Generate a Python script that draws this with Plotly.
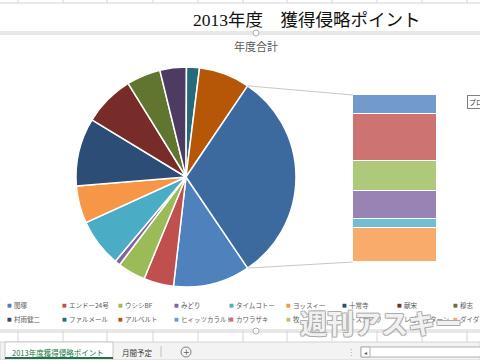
import math
import plotly.graph_objects as go

# ---------------- data ----------------
pie_labels = ["関塚", "エンドー24号", "ウシシBF", "みどり", "タイムコトー", "ヨッスィー",
              "十常寺", "献宋", "穆志", "村雨健二", "ファルメール", "アルベルト"]
pie_values = [113, 44, 41, 8, 71, 55, 100, 75, 50, 39, 19, 75]
pie_colors = ["#4F81BD", "#C0504D", "#9BBB59", "#8064A2", "#4BACC6", "#F79646",
              "#2C4D75", "#772C2A", "#5F7530", "#4D3B62", "#276A7C", "#B65708"]

bar_labels = ["ヒィッツカラルド", "カワラザキ", "牧", "トスカロウ", "レビルサターン", "ダイダ"]
bar_values = [36, 87, 56, 52, 17, 63]
bar_colors = ["#729ACA", "#CD7371", "#AFC97A", "#9983B5", "#6FBDD1", "#F9AB6B"]

other_label = "その他"
other_color = "#3C6A9E"

title_text = "2013年度　獲得侵略ポイント"
chart_title = "年度合計"
sheet_tabs = ["2013年度獲得侵略ポイント", "月間予定"]

# ---------------- layout helpers ----------------
W, H = 480, 360
def px(x):
    return x / W
def py(y):
    return 1 - y / H

other_value = sum(bar_values)
total = sum(pie_values) + other_value
rotation = 145.9  # start angle of first slice (clockwise from 12 o'clock)

pie_cx, pie_cy, pie_r = 186, 177, 110
pie_dom_x = [px(pie_cx - pie_r), px(pie_cx + pie_r)]
pie_dom_y = [py(pie_cy + pie_r), py(pie_cy - pie_r)]

bar_x0, bar_x1, bar_top, bar_bot = 353, 437, 95, 262

fig = go.Figure()

fig.add_trace(go.Pie(
    labels=pie_labels + [other_label],
    values=pie_values + [other_value],
    marker=dict(colors=pie_colors + [other_color], line=dict(color="white", width=1.5)),
    sort=False, direction="clockwise", rotation=rotation,
    textinfo="none", hoverinfo="label+value", showlegend=False,
    domain=dict(x=pie_dom_x, y=pie_dom_y),
))

# stacked bar (first item on top)
for lab, val, col in reversed(list(zip(bar_labels, bar_values, bar_colors))):
    fig.add_trace(go.Bar(
        x=[0], y=[val], name=lab, marker=dict(color=col, line=dict(color="white", width=1.5)),
        width=1, showlegend=False, xaxis="x", yaxis="y",
    ))

shapes = []
annotations = []

def note(text, x, y, size, color, family="Noto Sans CJK JP", xanchor="center", **kw):
    d = dict(text=text, x=px(x), y=py(y), xref="paper", yref="paper", showarrow=False,
             xanchor=xanchor, yanchor="middle",
             font=dict(family=family, size=size, color=color))
    d.update(kw)
    annotations.append(d)

# connector lines from the "other" slice edges to the bar
a_start = math.radians(rotation - 360 * other_value / total)
a_end = math.radians(rotation)
for ang, by in [(a_start, bar_top), (a_end, bar_bot)]:
    sx = pie_cx + pie_r * math.sin(ang)
    sy = pie_cy - pie_r * math.cos(ang)
    shapes.append(dict(type="line", xref="paper", yref="paper",
                       x0=px(sx), y0=py(sy), x1=px(bar_x0), y1=py(by),
                       line=dict(color="#C8C8C8", width=1)))

# spreadsheet grid at top
grid_x = [18, 63, 107, 153, 198, 243, 287, 332, 377, 422, 467]
shapes.append(dict(type="line", xref="paper", yref="paper", x0=0, x1=1, y0=py(3), y1=py(3),
                   line=dict(color="#D4D4D4", width=1)))
for gx in grid_x:
    shapes.append(dict(type="line", xref="paper", yref="paper", x0=px(gx), x1=px(gx),
                       y0=py(0), y1=py(3), line=dict(color="#D4D4D4", width=1)))
    shapes.append(dict(type="line", xref="paper", yref="paper", x0=px(gx), x1=px(gx),
                       y0=py(331), y1=py(342), line=dict(color="#D4D4D4", width=1)))
# chart area borders
for yy in [32, 34]:
    shapes.append(dict(type="line", xref="paper", yref="paper", x0=0, x1=1, y0=py(yy), y1=py(yy),
                       line=dict(color="#D0D0D0", width=1)))
for yy in [330, 332]:
    shapes.append(dict(type="line", xref="paper", yref="paper", x0=0, x1=1, y0=py(yy), y1=py(yy),
                       line=dict(color="#D0D0D0", width=1)))
for yy in [33, 331]:
    shapes.append(dict(type="circle", xref="paper", yref="paper", x0=px(253), x1=px(259),
                       y0=py(yy + 3), y1=py(yy - 3), fillcolor="white",
                       line=dict(color="#B0B0B0", width=1)))

# tab bar
shapes.append(dict(type="rect", xref="paper", yref="paper", x0=0, x1=1, y0=0, y1=py(342),
                   fillcolor="#F3F3F3", line=dict(color="#D4D4D4", width=1), layer="below"))
shapes.append(dict(type="rect", xref="paper", yref="paper", x0=px(5), x1=px(113), y0=0, y1=py(342),
                   fillcolor="white", line=dict(color="#C8C8C8", width=1)))
shapes.append(dict(type="line", xref="paper", yref="paper", x0=px(5), x1=px(113),
                   y0=py(358), y1=py(358), line=dict(color="#217346", width=2)))
shapes.append(dict(type="line", xref="paper", yref="paper", x0=px(161), x1=px(161),
                   y0=py(346), y1=py(357), line=dict(color="#C0C0C0", width=1)))
shapes.append(dict(type="circle", xref="paper", yref="paper", x0=px(181), x1=px(191),
                   y0=py(357), y1=py(347), line=dict(color="#808080", width=1)))
shapes.append(dict(type="rect", xref="paper", yref="paper", x0=px(361), x1=px(481),
                   y0=py(357), y1=py(347), fillcolor="white", line=dict(color="#B0B0B0", width=1)))
shapes.append(dict(type="rect", xref="paper", yref="paper", x0=px(361), x1=px(370),
                   y0=py(357), y1=py(347), fillcolor="white", line=dict(color="#B0B0B0", width=1)))

# titles
note(title_text, 307, 20, 17.5, "#111111", family="Liberation Serif, Noto Sans CJK JP")
note(chart_title, 256, 46, 11, "#595959")

# legend (two rows, nine columns)
leg_labels = pie_labels + bar_labels
leg_colors = pie_colors + bar_colors
col_x = [9, 64, 120, 176, 231, 288, 344, 399, 455]
row_y = [305, 319]
for i, (lab, col) in enumerate(zip(leg_labels, leg_colors)):
    r, c = divmod(i, 9)
    note("■", col_x[c], row_y[r], 5, col, family="DejaVu Sans")
    note(lab, col_x[c] + 2.5, row_y[r], 6.5, "#595959", xanchor="left")

# sheet tabs
note(sheet_tabs[0], 58, 352, 7.5, "#217346")
note(sheet_tabs[1], 137, 352, 7.5, "#333333")
note("+", 186, 352, 8, "#606060", family="DejaVu Sans")
note("⋮", 351, 352, 8, "#A0A0A0", family="DejaVu Sans")
note("◂", 365.5, 352, 6, "#606060", family="DejaVu Sans")

# tooltip fragment at the right edge
note("プロ", 467, 102, 7, "#333333", xanchor="left", bordercolor="#808080", borderwidth=1,
     bgcolor="white", borderpad=1)

# watermark
note("<b>週刊アスキー</b>", 381, 322, 27, "rgba(255,255,255,0.85)")
annotations[-1]["font"]["shadow"] = ("1px 1px 0 #A8A8A8, -1px -1px 0 #A8A8A8, "
                                     "1px -1px 0 #A8A8A8, -1px 1px 0 #A8A8A8")

fig.update_layout(
    width=W, height=H, margin=dict(l=0, r=0, t=0, b=0),
    paper_bgcolor="white", plot_bgcolor="rgba(0,0,0,0)",
    barmode="stack", bargap=0,
    xaxis=dict(domain=[px(bar_x0), px(bar_x1)], range=[-0.5, 0.5], visible=False, fixedrange=True),
    yaxis=dict(domain=[py(bar_bot), py(bar_top)], range=[0, other_value], visible=False, fixedrange=True),
    shapes=shapes, annotations=annotations, showlegend=False,
)

fig.write_html("out.html", config=dict(displayModeBar=False),
               post_script="document.body.style.margin='0';document.body.style.overflow='hidden';")
